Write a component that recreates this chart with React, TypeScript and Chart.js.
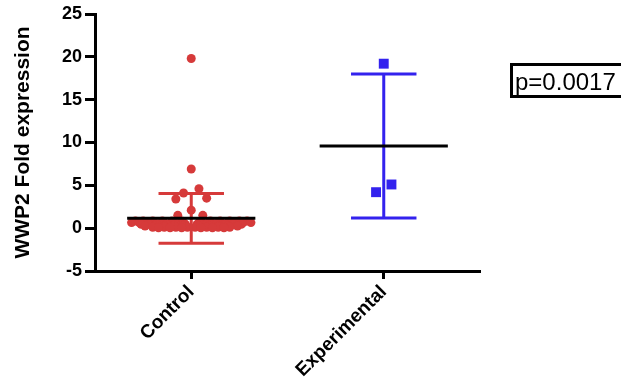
import React, { useEffect, useRef } from 'react';
import { Chart, registerables } from 'chart.js';

Chart.register(...registerables);

const categories = ['Control', 'Experimental'];
const yMin = -5;
const yMax = 25;
const yStep = 5;

// Control group: fold expression values with horizontal swarm offsets (category units)
const controlValues = [
  19.8, 6.9, 4.6, 4.1, 3.5, 3.4, 2.1, 1.5, 1.5,
  0.85, 0.85, 0.85, 0.85, 0.85, 0.85, 0.85, 0.85, 0.85, 0.85, 0.85, 0.85,
  0.65, 0.65, 0.65, 0.65, 0.65, 0.65, 0.65, 0.65, 0.65, 0.65, 0.65, 0.65, 0.65, 0.65,
  0.45, 0.45, 0.45, 0.45, 0.45, 0.45, 0.45, 0.45, 0.45, 0.45, 0.45, 0.45,
  0.25, 0.25, 0.25, 0.25, 0.25, 0.25, 0.25, 0.25, 0.25, 0.25,
  0.1, 0.1, 0.1, 0.1, 0.1, 0.1, 0.1, 0.1,
  0.05, 0.05, 0.05, 0.05, 0.05, 0.05,
];
const controlJitter = [
  0, 0, 0.04, -0.04, 0.08, -0.08, 0, -0.07, 0.06,
  -0.29, -0.25, -0.2, -0.15, -0.1, -0.05, 0.05, 0.1, 0.15, 0.2, 0.25, 0.29,
  -0.31, -0.27, -0.23, -0.19, -0.14, -0.09, -0.04, 0.04, 0.09, 0.14, 0.19, 0.23, 0.27, 0.31,
  -0.26, -0.22, -0.18, -0.13, -0.08, -0.03, 0.03, 0.08, 0.13, 0.18, 0.22, 0.26,
  -0.24, -0.19, -0.14, -0.09, -0.04, 0.04, 0.09, 0.14, 0.19, 0.24,
  -0.2, -0.14, -0.08, -0.02, 0.02, 0.08, 0.14, 0.2,
  -0.17, -0.11, -0.05, 0.05, 0.11, 0.17,
];

const experimentalValues = [19.2, 5.1, 4.2];
const experimentalJitter = [0, 0.04, -0.04];

const groupMeans = [1.15, 9.6];
const groupSDs = [2.9, 8.4];
const pValueText = 'p=0.0017';

const RED = 'rgb(214, 58, 58)';
const BLUE = 'rgb(51, 34, 238)';
const FONT = 'Arial, "Liberation Sans", Helvetica, sans-serif';

const MEAN_HALF = 0.333;
const CAP_HALF = 0.17;

function errorBarData(center: number, mean: number, sd: number) {
  const top = mean + sd;
  const bot = mean - sd;
  return [
    { x: center - CAP_HALF, y: top },
    { x: center + CAP_HALF, y: top },
    { x: center, y: null },
    { x: center, y: top },
    { x: center, y: bot },
    { x: center, y: null },
    { x: center - CAP_HALF, y: bot },
    { x: center + CAP_HALF, y: bot },
  ];
}

function meanLineData(center: number, mean: number) {
  return [
    { x: center - MEAN_HALF, y: mean },
    { x: center + MEAN_HALF, y: mean },
  ];
}

const pBoxPlugin = {
  id: 'pBox',
  afterDraw(chart: any) {
    const ctx = chart.ctx as CanvasRenderingContext2D;
    ctx.save();
    ctx.strokeStyle = '#000';
    ctx.lineWidth = 3;
    ctx.strokeRect(511.5, 64.5, 130, 32);
    ctx.fillStyle = '#000';
    ctx.font = `24px ${FONT}`;
    ctx.textBaseline = 'alphabetic';
    ctx.textAlign = 'left';
    ctx.fillText(pValueText, 515, 90);
    ctx.restore();
  },
};

export default function App() {
  const ref = useRef<HTMLCanvasElement | null>(null);

  useEffect(() => {
    if (!ref.current) return;
    const controlPoints = controlValues.map((v, i) => ({ x: 1 + controlJitter[i], y: v }));
    const expPoints = experimentalValues.map((v, i) => ({ x: 2 + experimentalJitter[i], y: v }));

    const chart = new Chart(ref.current, {
      type: 'scatter',
      data: {
        datasets: [
          {
            type: 'line',
            data: meanLineData(1, groupMeans[0]),
            borderColor: '#000',
            borderWidth: 3,
            pointRadius: 0,
          } as any,
          {
            type: 'line',
            data: meanLineData(2, groupMeans[1]),
            borderColor: '#000',
            borderWidth: 3,
            pointRadius: 0,
          } as any,
          {
            type: 'line',
            data: errorBarData(1, groupMeans[0], groupSDs[0]),
            borderColor: RED,
            borderWidth: 3,
            pointRadius: 0,
            spanGaps: false,
          } as any,
          {
            type: 'line',
            data: errorBarData(2, groupMeans[1], groupSDs[1]),
            borderColor: BLUE,
            borderWidth: 3,
            pointRadius: 0,
            spanGaps: false,
          } as any,
          {
            data: controlPoints,
            backgroundColor: RED,
            borderWidth: 0,
            pointRadius: 4.5,
            pointStyle: 'circle',
          },
          {
            data: expPoints,
            backgroundColor: BLUE,
            borderWidth: 0,
            pointRadius: 7,
            pointStyle: 'rect',
          },
        ],
      },
      options: {
        responsive: false,
        animation: false,
        layout: { padding: { left: 0, right: 141, top: 14, bottom: 0 } },
        plugins: {
          legend: { display: false },
          tooltip: { enabled: false },
        },
        scales: {
          x: {
            type: 'linear',
            min: 0.5,
            max: 2.5,
            afterBuildTicks: (s: any) => {
              s.ticks = categories.map((_, i) => ({ value: i + 1 }));
            },
            afterFit: (s: any) => {
              s.height = 111;
            },
            ticks: {
              autoSkip: false,
              maxRotation: 45,
              minRotation: 45,
              padding: 2,
              color: '#000',
              font: { family: FONT, size: 19, weight: 'bold' },
              callback: (v: any) => categories[Number(v) - 1] ?? '',
            },
            grid: {
              drawOnChartArea: false,
              drawTicks: true,
              tickLength: 8,
              tickWidth: 3,
              tickColor: '#000',
            },
            border: { color: '#000', width: 3 },
          },
          y: {
            min: yMin,
            max: yMax,
            afterFit: (s: any) => {
              s.width = 95;
            },
            ticks: {
              stepSize: yStep,
              padding: 3,
              color: '#000',
              font: { family: FONT, size: 18, weight: 'bold' },
            },
            grid: {
              drawOnChartArea: false,
              drawTicks: true,
              tickLength: 10,
              tickWidth: 3,
              tickColor: '#000',
            },
            border: { color: '#000', width: 3 },
            title: {
              display: true,
              text: 'WWP2 Fold expression',
              color: '#000',
              font: { family: FONT, size: 21, weight: 'bold' },
              padding: { top: 11, bottom: 0 },
            },
          },
        },
      },
      plugins: [pBoxPlugin],
    });
    return () => chart.destroy();
  }, []);

  return (
    <div style={{ position: 'absolute', left: 0, top: 0, width: 621, height: 382, background: '#fff' }}>
      <canvas ref={ref} width={621} height={382} />
    </div>
  );
}
